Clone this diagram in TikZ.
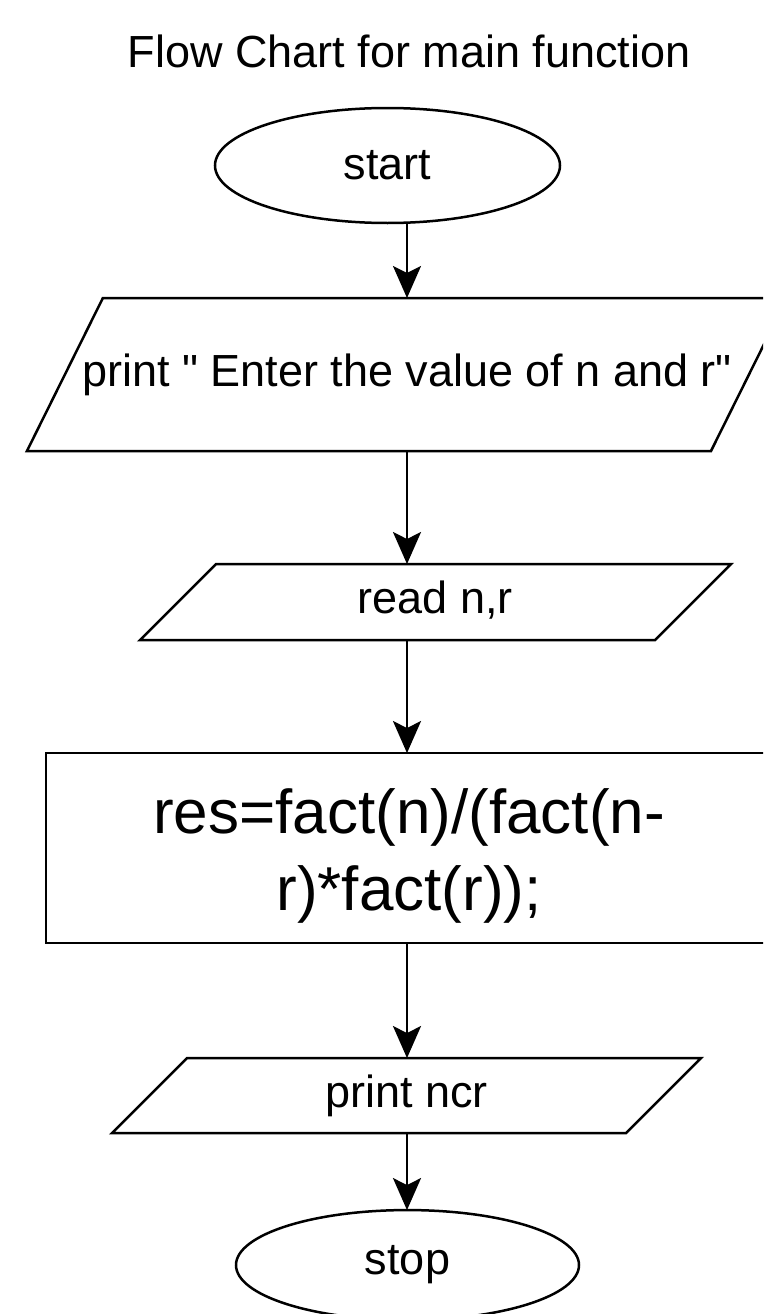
\documentclass[tikz,border=0pt]{standalone}
\usepackage{fontspec}
\setmainfont{Liberation Sans}[Ligatures=TeXOff]
\usetikzlibrary{positioning,shapes.geometric,arrows.meta}

\tikzset{
    base/.style={draw, line width=2.5pt, outer sep=0pt, inner sep=4pt,
        font=\fontsize{45}{54}\selectfont},
    heading/.style={inner sep=4pt, font=\fontsize{45}{54}\selectfont},
    term/.style={base, ellipse, minimum width=345pt, minimum height=115pt},
    io/.style={base, trapezium, trapezium stretches body,
        text height=33pt, text depth=10pt},
    proc/.style={base, rectangle, minimum width=726pt, minimum height=190pt,
        align=center, font=\fontsize{62}{77}\selectfont},
    arrow/.style={line width=2.5pt, -{Stealth[length=32pt, width=28pt, inset=7pt]}},
}

\begin{document}
\begin{tikzpicture}[x=1pt, y=-1pt]
\useasboundingbox (0,0) rectangle (763,1314);
\clip (0,0) rectangle (763,1314);

%Nodes
\node[heading]  (title)     at (409,51.5)   {Flow Chart for main function};
\node[term]     (start)     at (387.5,165.5) {start};
\node[io, minimum width=760pt, inner ysep=55pt, inner xsep=-21pt,
    trapezium left angle=63.6, trapezium right angle=116.4]
                (print1)    [below=75pt of start, xshift=19.5pt]
                {print " Enter the value of n and r"};
\node[io, minimum width=591pt, inner ysep=16.5pt,
    trapezium left angle=45, trapezium right angle=135]
                (read)      [below=113pt of print1, xshift=28.5pt]  {read n,r};
\node[proc]     (calc)      [below=113pt of read, xshift=-26.5pt]
                {\rule{0pt}{60pt}res=fact(n)/(fact(n-\\r)*fact(r));};
\node[io, minimum width=589pt, inner ysep=16pt,
    trapezium left angle=45, trapezium right angle=135]
                (show)      [below=115pt of calc, xshift=-2.5pt]    {print ncr};
\node[term, minimum width=343pt, minimum height=110pt]
                (stop)      [below=77pt of show, xshift=1pt]        {stop};
\coordinate     (axis)      at (407,0);

%Lines
\draw[arrow]    (start.south -| axis)   -- (print1.north -| axis);
\draw[arrow]    (print1.south -| axis)  -- (read.north -| axis);
\draw[arrow]    (read.south -| axis)    -- (calc.north -| axis);
\draw[arrow]    (calc.south -| axis)    -- (show.north -| axis);
\draw[arrow]    (show.south -| axis)    -- (stop.north -| axis);
\end{tikzpicture}
\end{document}
